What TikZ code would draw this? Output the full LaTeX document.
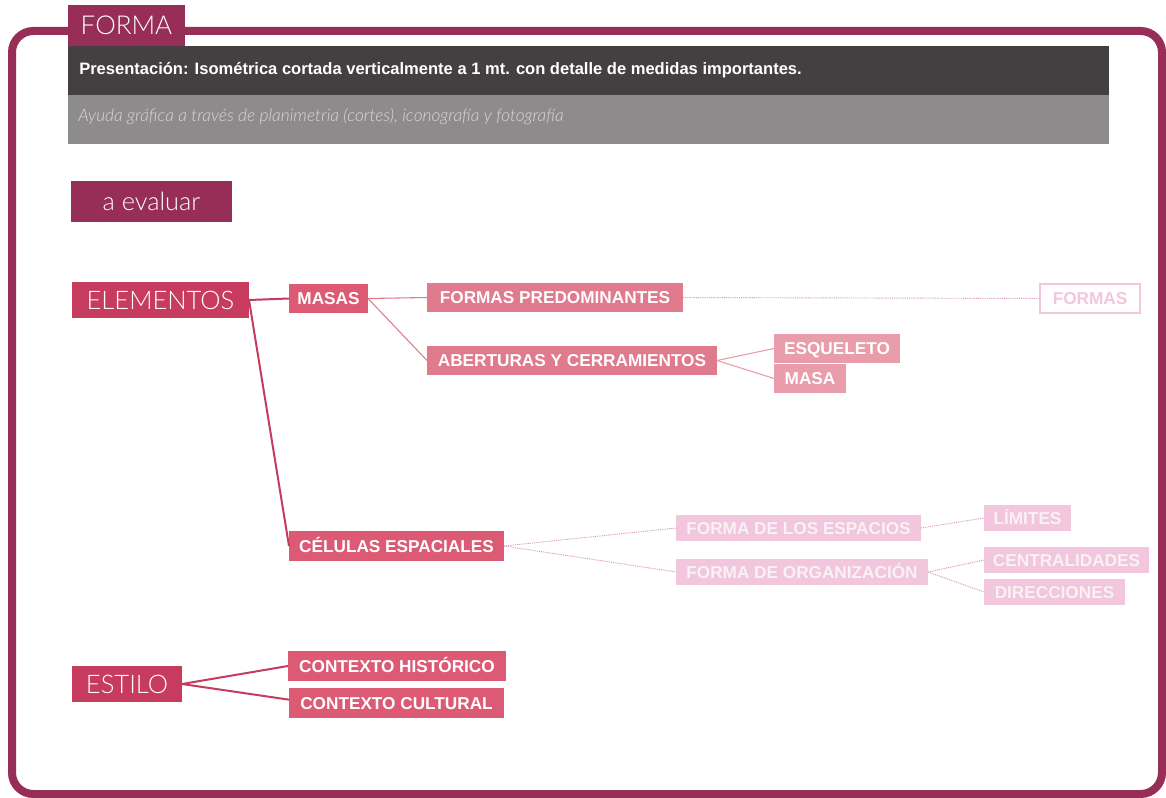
\documentclass[tikz,border=0pt]{standalone}
\usepackage{fontspec}
\setmainfont{Liberation Sans}
\newfontfamily\lightfont{Lato}[UprightFont={* Light},ItalicFont={* Light Italic}]
\definecolor{framec}{HTML}{962E57}
\definecolor{darkbar}{HTML}{443F41}
\definecolor{graybar}{HTML}{8D8B8C}
\definecolor{itext}{HTML}{D9D7D8}
\definecolor{lvA}{HTML}{C63B5E}
\definecolor{lvB}{HTML}{DC5A73}
\definecolor{lvC}{HTML}{E07A8D}
\definecolor{lvD}{HTML}{E99CA9}
\definecolor{lvE}{HTML}{F2C6DD}
\definecolor{lvEtext}{HTML}{F8F2F5}
\definecolor{dotc}{HTML}{D49BC5}
\newcommand\boldf{\bfseries\fontsize{12.9}{14}\selectfont}
\newcommand\lightbig{\lightfont\fontsize{19.2}{21}\selectfont}
\newcommand\Bx[7]{\node[#6, minimum width={(#4-#2)*0.75pt}, minimum height={(#5-#3)*0.75pt}] (#1) at ({(#2+#4)/2},{(#3+#5)/2}) {#7};}
\tikzset{
  base/.style={inner sep=0pt, outer sep=0pt, text=white, font=\boldf, text height=9.2pt, text depth=0pt},
  bigbox/.style={base, fill=lvA, font=\lightbig, text height=13.8pt},
  boxB/.style={base, fill=lvB},
  boxC/.style={base, fill=lvC},
  boxD/.style={base, fill=lvD},
  boxE/.style={base, fill=lvE, text=lvEtext},
  boxO/.style={base, draw=lvE, line width=1.5pt, text=lvE},
  lineA/.style={draw=lvA, line width=1.5pt},
  lineC/.style={draw=lvC, line width=0.8pt},
  lineD/.style={draw=lvD, line width=0.8pt},
  dotline/.style={draw=dotc, line width=0.7pt, dash pattern=on 0.7pt off 0.7pt},
}
\begin{document}
\begin{tikzpicture}[x=0.75pt,y=-0.75pt]
\useasboundingbox (0,0) rectangle (1166,798);
\fill[white] (0,0) rectangle (1166,798);
% frame
\draw[framec, line width=6pt, rounded corners=16pt] (12,31) rectangle (1162,794);
% tab
\Bx{tab}{68}{5}{185}{46}{base, fill=framec, font=\lightfont\fontsize{19.5}{21}\selectfont, text height=14pt}{FORMA}
% header bars
\fill[darkbar] (68,46) rectangle (1109,95);
\fill[graybar] (68,95) rectangle (1109,144);
\node[anchor=base west, inner sep=0pt, text=white, font=\bfseries\fontsize{12.4}{14}\selectfont] (pres) at (79,75) {Presentación: Isométrica cortada verticalmente a 1 mt. con detalle de medidas importantes.};
\node[anchor=base west, inner sep=0pt, text=itext, font=\lightfont\itshape\fontsize{13}{15}\selectfont] (ayuda) at (78,122) {Ayuda gráfica a través de planimetria (cortes), iconografía y fotografía};
% a evaluar
\Bx{eval}{71}{181}{232}{222}{base, fill=framec, font=\lightfont\fontsize{19}{21}\selectfont, text height=13pt}{a evaluar}
% nodes
\Bx{elem}{72}{282}{249}{318}{bigbox}{ELEMENTOS}
\Bx{masas}{289}{284}{368}{313}{boxB}{MASAS}
\Bx{fpred}{427}{283}{683}{312}{boxC}{FORMAS PREDOMINANTES}
\Bx{aber}{427}{346}{717}{375}{boxC}{ABERTURAS Y CERRAMIENTOS}
\Bx{esq}{774}{334}{900}{363}{boxD}{ESQUELETO}
\Bx{masa}{774}{364}{846}{393}{boxD}{MASA}
\Bx{formas}{1040}{284}{1140}{313}{boxO}{FORMAS}
\Bx{cel}{289}{531}{504}{561}{boxB}{CÉLULAS ESPACIALES}
\Bx{fesp}{676}{515}{921}{541}{boxE}{FORMA DE LOS ESPACIOS}
\Bx{forg}{676}{559}{928}{585}{boxE}{FORMA DE ORGANIZACIÓN}
\Bx{lim}{984}{505}{1071}{531}{boxE}{LÍMITES}
\Bx{cent}{984}{547}{1149}{573}{boxE}{CENTRALIDADES}
\Bx{dir}{984}{579}{1125}{605}{boxE}{DIRECCIONES}
\Bx{estilo}{72}{666}{182}{702}{bigbox}{ESTILO}
\Bx{chist}{288}{651}{506}{681}{boxB}{CONTEXTO HISTÓRICO}
\Bx{ccult}{289}{688}{504}{718}{boxB}{CONTEXTO CULTURAL}
% connectors
\draw[lineA] (elem.east) -- (masas.west);
\draw[lineA] (elem.east) -- (cel.west);
\draw[lineC] (masas.east) -- (fpred.west);
\draw[lineC] (masas.east) -- (aber.west);
\draw[lineD] (aber.east) -- (esq.west);
\draw[lineD] (aber.east) -- (masa.west);
\draw[dotline] (fpred.east) -- (formas.west);
\draw[dotline] (cel.east) -- (fesp.west);
\draw[dotline] (cel.east) -- (forg.west);
\draw[dotline] (fesp.east) -- (lim.west);
\draw[dotline] (forg.east) -- (cent.west);
\draw[dotline] (forg.east) -- (dir.west);
\draw[lineA] (estilo.east) -- (chist.west);
\draw[lineA] (estilo.east) -- ([yshift=2.5pt]ccult.west);
\end{tikzpicture}
\end{document}
